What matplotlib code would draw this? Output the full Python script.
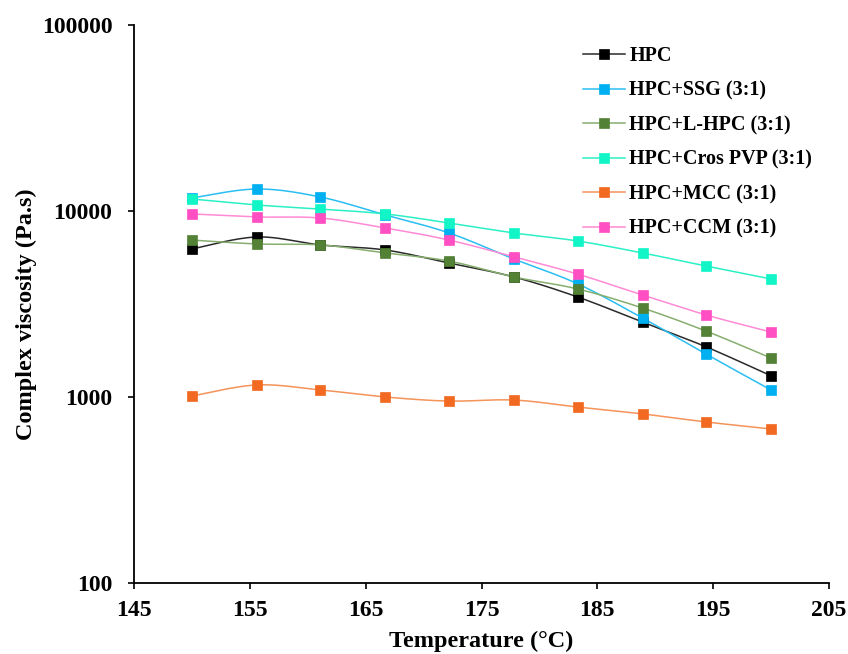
import numpy as np
import matplotlib
matplotlib.use("Agg")
import matplotlib.pyplot as plt
from matplotlib.lines import Line2D

plt.rcParams['font.family'] = ['Liberation Serif', 'DejaVu Serif']
plt.rcParams['font.weight'] = 'bold'

# Temperature sweep (°C)
temperature = [150.0, 155.6, 161.1, 166.7, 172.2, 177.8, 183.3, 188.9, 194.4, 200.0]

# Complex viscosity (Pa.s) for each formulation
hpc = [6250, 7250, 6570, 6170, 5250, 4420, 3450, 2530, 1860, 1300]
hpc_ssg = [11750, 13130, 11890, 9520, 7620, 5520, 4060, 2660, 1700, 1090]
hpc_lhpc = [6980, 6650, 6570, 5950, 5380, 4420, 3810, 3010, 2260, 1620]
hpc_crospvp = [11600, 10770, 10250, 9640, 8620, 7620, 6900, 5950, 5060, 4310]
hpc_mcc = [1012, 1161, 1091, 1000, 951, 963, 883, 811, 734, 673]
hpc_ccm = [9640, 9290, 9170, 8100, 6980, 5670, 4580, 3535, 2760, 2234]

labels = ['HPC', 'HPC+SSG (3:1)', 'HPC+L-HPC (3:1)', 'HPC+Cros PVP (3:1)',
          'HPC+MCC (3:1)', 'HPC+CCM (3:1)']
series = [hpc, hpc_ssg, hpc_lhpc, hpc_crospvp, hpc_mcc, hpc_ccm]
marker_colors = ['#000000', '#00B0F0', '#538135', '#12F5C6', '#F26A22', '#FF4FC3']
line_colors = ['#2a2a2a', '#2ABEF2', '#86AE6E', '#2BF0C6', '#F4935A', '#FF8AD5']


def smooth_curve(x, y, n=30):
    """Catmull-Rom style Bezier smoothing in (x, log10 y) space."""
    x = np.asarray(x, float)
    ly = np.log10(np.asarray(y, float))
    P = np.column_stack([x, ly])
    out = []
    m = len(P)
    for i in range(m - 1):
        p0 = P[i - 1] if i > 0 else P[i]
        p1 = P[i]
        p2 = P[i + 1]
        p3 = P[i + 2] if i + 2 < m else P[i + 1]
        c1 = p1 + (p2 - p0) / 6.0
        c2 = p2 - (p3 - p1) / 6.0
        t = np.linspace(0, 1, n)[:, None]
        seg = ((1 - t) ** 3) * p1 + 3 * ((1 - t) ** 2) * t * c1 + \
              3 * (1 - t) * t ** 2 * c2 + t ** 3 * p2
        out.append(seg if i == 0 else seg[1:])
    pts = np.vstack(out)
    return pts[:, 0], 10 ** pts[:, 1]


fig = plt.figure(figsize=(8.48, 6.54), dpi=100)
ax = fig.add_axes([134 / 848, 1 - 583 / 654, (829 - 134) / 848, (583 - 25) / 654])

handles = []
for vals, lab, mc, lc in zip(series, labels, marker_colors, line_colors):
    sx, sy = smooth_curve(temperature, vals)
    ax.plot(sx, sy, color=lc, lw=1.1, zorder=2)
    ax.plot(temperature, vals, ls='none', marker='s', ms=6.5, mfc=mc,
            mec=mc, mew=0.5, zorder=3)
    handles.append(Line2D([], [], color=lc, lw=1.1, marker='s', ms=6.5,
                          mfc=mc, mec=mc, mew=0.5))

ax.set_yscale('log')
ax.set_xlim(145, 205)
ax.set_ylim(100, 100000)
ax.set_xticks([145, 155, 165, 175, 185, 195, 205])
ax.set_yticks([100, 1000, 10000, 100000])
ax.set_yticklabels(['100', '1000', '10000', '100000'])
ax.yaxis.set_minor_locator(matplotlib.ticker.NullLocator())
ax.tick_params(axis='both', which='major', direction='out', length=4.5,
               width=1.2, labelsize=17)
ax.tick_params(axis='x', pad=7.5)
ax.tick_params(axis='y', pad=11)
for lbl in ax.get_xticklabels() + ax.get_yticklabels():
    lbl.set_fontweight('bold')

for side in ['top', 'right']:
    ax.spines[side].set_visible(False)
for side in ['left', 'bottom']:
    ax.spines[side].set_linewidth(1.3)

ax.set_xlabel('Temperature (°C)', fontsize=17.5, fontweight='bold', va='center')
ax.xaxis.set_label_coords(0.5, (583 - 641) / 558)
ax.set_ylabel('Complex viscosity (Pa.s)', fontsize=17.5, fontweight='bold',
              va='center')
ax.yaxis.set_label_coords((26 - 134) / 695, (583 - 314) / 558)

fig.legend(handles, labels, loc='upper left',
           bbox_to_anchor=(575 / 848, 1 - 38 / 654), frameon=False,
           prop={'size': 14.5, 'weight': 'bold'}, handlelength=2.1,
           handletextpad=0.2, labelspacing=0.72, borderaxespad=0)

fig.savefig('out.png', dpi=100)
